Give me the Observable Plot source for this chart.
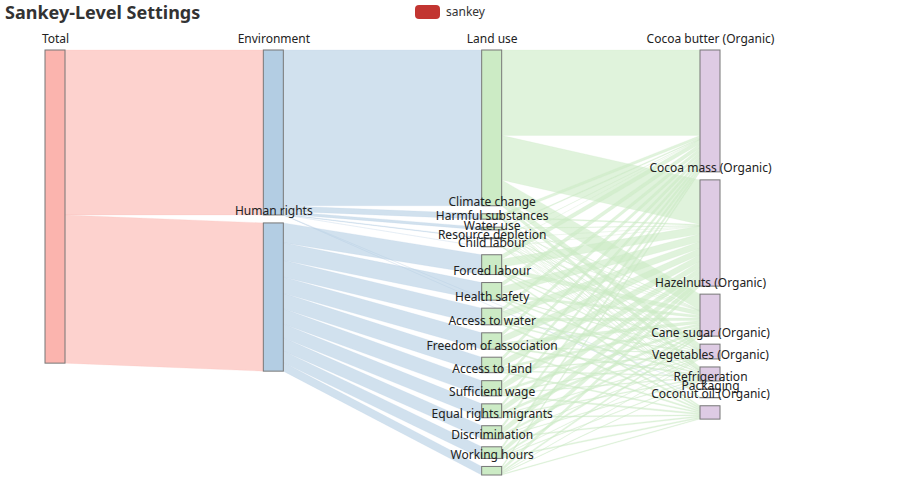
<!DOCTYPE html>
<html>
<head>
<meta charset="utf-8">
<script src="https://cdn.jsdelivr.net/npm/d3@7"></script>
<script src="https://cdn.jsdelivr.net/npm/@observablehq/plot@0.6"></script>
<style>
  body { margin: 0; background: #fff; }
  #wrap { position: relative; width: 900px; height: 500px; font-family: "Noto Sans", sans-serif; }
  #chart { position: absolute; left: 0; top: 0; }
  #title { position: absolute; left: 5px; top: 0px; font-size: 18px; font-weight: bold; color: #333; line-height: 25px; }
  #legend { position: absolute; left: 415px; top: 4px; display: flex; align-items: center; font-size: 12px; color: #333; line-height: 16px; }
  #legend .sw { width: 25px; height: 14px; border-radius: 4px; background: #c23531; margin-right: 6px; }
</style>
</head>
<body>
<div id="wrap">
  <div id="chart"></div>
  <div id="title">Sankey-Level Settings</div>
  <div id="legend"><div class="sw"></div><span>sankey</span></div>
</div>
<script>
// ---- Data ----
const level0 = ["Total"];
const level1 = ["Environment", "Human rights"];
const level2 = ["Land use", "Climate change", "Harmful substances", "Water use", "Resource depletion",
  "Child labour", "Forced labour", "Health safety", "Access to water", "Freedom of association",
  "Access to land", "Sufficient wage", "Equal rights migrants", "Discrimination", "Working hours"];
const level3 = ["Cocoa butter (Organic)", "Cocoa mass (Organic)", "Hazelnuts (Organic)", "Cane sugar (Organic)",
  "Vegetables (Organic)", "Refrigeration", "Packaging", "Coconut oil (Organic)"];

const levelColors = ["#fbb4ae", "#b3cde3", "#ccebc5", "#decbe4"];

// [source, target, value]
const envLinks = [
  ["Total", "Environment", 0.342284],
  ["Total", "Human rights", 0.307574],
  ["Environment", "Land use", 0.323229],
  ["Environment", "Climate change", 0.011228],
  ["Environment", "Harmful substances", 0.005659],
  ["Environment", "Water use", 0.001652],
  ["Environment", "Resource depletion", 0.000126],
  ["Environment", "Refrigeration", 0.0002],
  ["Environment", "Packaging", 0.00019],
  ["Land use", "Cocoa butter (Organic)", 0.177276],
  ["Land use", "Cocoa mass (Organic)", 0.092526],
  ["Land use", "Hazelnuts (Organic)", 0.033651],
  ["Land use", "Cane sugar (Organic)", 0.012417],
  ["Land use", "Vegetables (Organic)", 0.007359],
  ["Climate change", "Cocoa butter (Organic)", 0.005893],
  ["Climate change", "Cocoa mass (Organic)", 0.002388],
  ["Climate change", "Hazelnuts (Organic)", 0.000999],
  ["Climate change", "Cane sugar (Organic)", 0.000736],
  ["Climate change", "Vegetables (Organic)", 0.000222],
  ["Climate change", "Refrigeration", 0.000754],
  ["Climate change", "Packaging", 0.000238],
  ["Harmful substances", "Cocoa butter (Organic)", 0.00206],
  ["Harmful substances", "Cocoa mass (Organic)", 0.00083],
  ["Harmful substances", "Hazelnuts (Organic)", 0.00035],
  ["Harmful substances", "Cane sugar (Organic)", 0.00126],
  ["Harmful substances", "Vegetables (Organic)", 0.00098],
  ["Harmful substances", "Refrigeration", 0.00009],
  ["Harmful substances", "Packaging", 0.00009],
  ["Water use", "Cocoa butter (Organic)", 0.00039],
  ["Water use", "Cocoa mass (Organic)", 0.00016],
  ["Water use", "Hazelnuts (Organic)", 0.00068],
  ["Water use", "Cane sugar (Organic)", 0.00033],
  ["Water use", "Vegetables (Organic)", 0.000085],
  ["Water use", "Refrigeration", 0.0000016],
  ["Water use", "Packaging", 0.0000016],
  ["Resource depletion", "Cocoa butter (Organic)", 0.000015],
  ["Resource depletion", "Cocoa mass (Organic)", 0.000006],
  ["Resource depletion", "Hazelnuts (Organic)", 0.000002],
  ["Resource depletion", "Cane sugar (Organic)", 0.000006],
  ["Resource depletion", "Vegetables (Organic)", 0.000003],
  ["Resource depletion", "Refrigeration", 0.000054],
  ["Resource depletion", "Packaging", 0.00004]
];

// Human-rights issue -> product, order of products:
const hrProducts = ["Hazelnuts (Organic)", "Cocoa mass (Organic)", "Cocoa butter (Organic)",
  "Coconut oil (Organic)", "Vegetables (Organic)", "Cane sugar (Organic)"];
const hrChildLabour   = [0.0085, 0.0166, 0.0091, 0.0030, 0.0019, 0.0020];
const hrForcedLabour  = [0.0051, 0.0156, 0.0084, 0.0036, 0.0027, 0.0011];
const hrHealthSafety  = [0.0055, 0.0137, 0.0074, 0.0032, 0.0025, 0.0022];
const hrAccessWater   = [0.0060, 0.0135, 0.0072, 0.0030, 0.0027, 0.0016];
const hrFreedom       = [0.0048, 0.0134, 0.0072, 0.0027, 0.0021, 0.0019];
const hrAccessLand    = [0.0050, 0.0126, 0.0068, 0.0031, 0.0019, 0.0021];
const hrSufficientWage= [0.0052, 0.0113, 0.0061, 0.0022, 0.0022, 0.0018];
const hrEqualRights   = [0.0043, 0.0115, 0.0062, 0.0025, 0.0015, 0.0011];
const hrDiscrimination= [0.0038, 0.0098, 0.0053, 0.0026, 0.0016, 0.0011];
const hrWorkingHours  = [0.0033, 0.0066, 0.0036, 0.0018, 0.0013, 0.0011];

const hrIssues = [
  ["Child labour", 0.041064, hrChildLabour],
  ["Forced labour", 0.036546, hrForcedLabour],
  ["Health safety", 0.034544, hrHealthSafety],
  ["Access to water", 0.034021, hrAccessWater],
  ["Freedom of association", 0.032057, hrFreedom],
  ["Access to land", 0.031502, hrAccessLand],
  ["Sufficient wage", 0.028778, hrSufficientWage],
  ["Equal rights migrants", 0.027115, hrEqualRights],
  ["Discrimination", 0.024201, hrDiscrimination],
  ["Working hours", 0.017744, hrWorkingHours]
];

// ---- Build link table ----
const links = envLinks.map(([s, t, v]) => ({source: s, target: t, value: v}));
hrIssues.forEach(([name, total, vals]) => {
  links.push({source: "Human rights", target: name, value: total});
  vals.forEach((v, i) => links.push({source: name, target: hrProducts[i], value: v}));
});

// ---- Sankey layout (ECharts-like, stacked columns) ----
const W = 675, H = 425, nodeW = 20, gap = 8;
const columns = [level0, level1, level2, level3];
const nodes = new Map();
columns.forEach((col, d) => col.forEach((name, i) =>
  nodes.set(name, {name, depth: d, index: i, vin: 0, vout: 0})));
links.forEach(l => { nodes.get(l.source).vout += l.value; nodes.get(l.target).vin += l.value; });
nodes.forEach(n => n.value = Math.max(n.vin, n.vout));
const ky = d3.min(columns, col => (H - (col.length - 1) * gap) / d3.sum(col, nm => nodes.get(nm).value));
const kx = (W - nodeW) / (columns.length - 1);
columns.forEach((col, d) => {
  let y = 0;
  col.forEach(nm => {
    const n = nodes.get(nm);
    n.x0 = d * kx; n.x1 = n.x0 + nodeW;
    n.y0 = y; n.y1 = y + n.value * ky;
    y = n.y1 + gap;
  });
});
nodes.forEach(n => {
  const outs = links.filter(l => l.source === n.name)
    .sort((a, b) => nodes.get(a.target).y0 - nodes.get(b.target).y0);
  let y = n.y0;
  outs.forEach(l => { l.sy0 = y; y += l.value * ky; l.sy1 = y; });
  const ins = links.filter(l => l.target === n.name)
    .sort((a, b) => nodes.get(a.source).y0 - nodes.get(b.source).y0);
  y = n.y0;
  ins.forEach(l => { l.ty0 = y; y += l.value * ky; l.ty1 = y; });
});

const linkPts = [];
links.forEach((l, i) => {
  const s = nodes.get(l.source), t = nodes.get(l.target);
  const color = levelColors[s.depth];
  linkPts.push({id: i, x: s.x1, y1: l.sy0, y2: l.sy1, color});
  linkPts.push({id: i, x: t.x0, y1: l.ty0, y2: l.ty1, color});
});
const nodeArr = Array.from(nodes.values());

const chart = Plot.plot({
  width: 900,
  height: 500,
  margin: 0,
  x: {domain: [0, W], range: [45, 720], axis: null},
  y: {domain: [0, H], range: [50, 475], axis: null},
  style: {fontFamily: "'Noto Sans', sans-serif", background: "#fff"},
  marks: [
    Plot.area(linkPts, {x1: "x", y1: "y1", y2: "y2", z: "id", fill: "color", fillOpacity: 0.6,
      stroke: "color", strokeOpacity: 0.6, strokeWidth: 0.3, curve: "linear"}),
    Plot.rect(nodeArr, {x1: "x0", x2: "x1", y1: "y0", y2: "y1", fill: d => levelColors[d.depth], stroke: "#777", strokeWidth: 1}),
    Plot.text(nodeArr, {x: d => (d.x0 + d.x1) / 2, y: "y0", text: "name", dy: -8, lineAnchor: "bottom",
      textAnchor: "middle", fontSize: 12, fill: "#222"})
  ]
});
document.getElementById("chart").appendChild(chart);
</script>
</body>
</html>
